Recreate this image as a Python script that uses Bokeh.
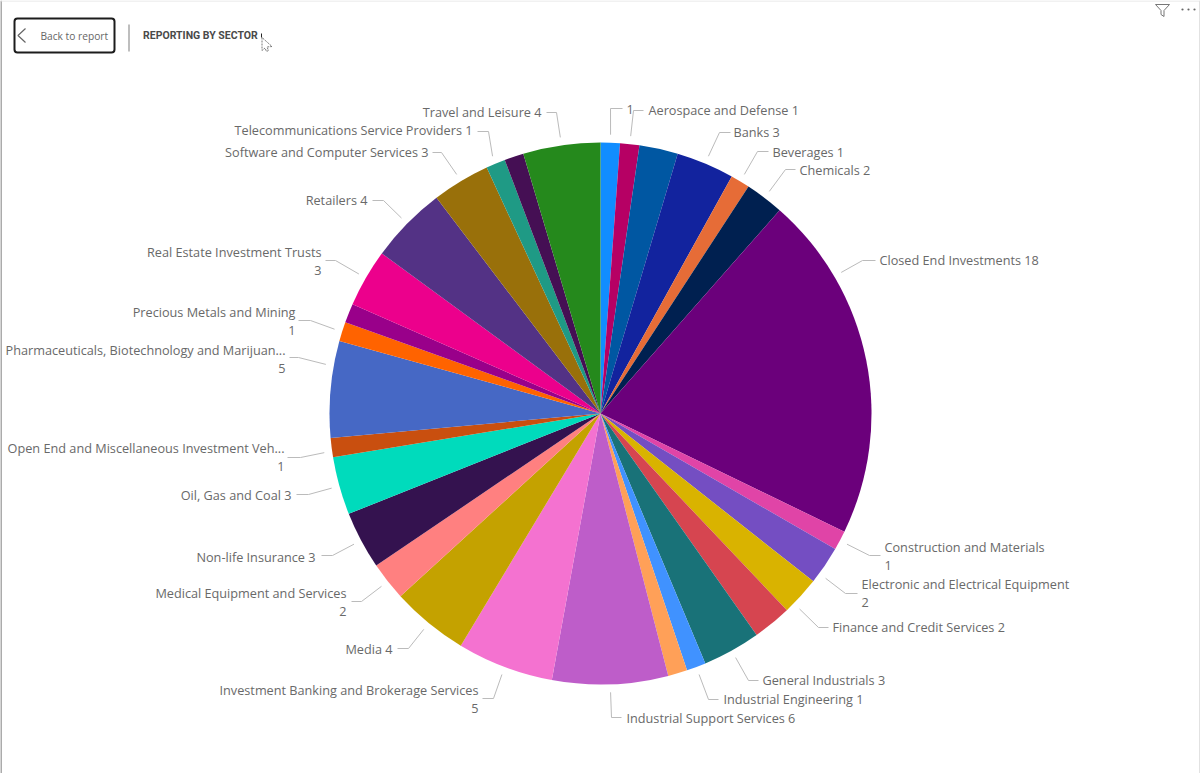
import math
from bokeh.plotting import figure
from bokeh.models import Range1d, ColumnDataSource
from bokeh.core.properties import value
from bokeh.embed import file_html
from bokeh.resources import INLINE

sectors = ["", "Aerospace and Defense", "", "Banks", "Beverages", "Chemicals",
           "Closed End Investments", "Construction and Materials",
           "Electronic and Electrical Equipment", "Finance and Credit Services", "",
           "General Industrials", "Industrial Engineering", "",
           "Industrial Support Services", "Investment Banking and Brokerage Services",
           "Media", "Medical Equipment and Services", "Non-life Insurance",
           "Oil, Gas and Coal", "Open End and Miscellaneous Investment Veh...",
           "Pharmaceuticals, Biotechnology and Marijuan...", "Precious Metals and Mining", "",
           "Real Estate Investment Trusts", "Retailers",
           "Software and Computer Services", "Telecommunications Service Providers", "",
           "Travel and Leisure"]
counts = [1, 1, 2, 3, 1, 2, 18, 1, 2, 2, 2, 3, 1, 1, 6, 5, 4, 2, 3, 3, 1, 5, 1, 1, 3, 4, 3, 1, 1, 4]
colors = ["#118DFF", "#B60064", "#0057A2", "#12239E", "#E66C37", "#002050", "#6B007B",
          "#E044A7", "#744EC2", "#D9B300", "#D64550", "#197278", "#4092FF", "#FFA058",
          "#BE5DC9", "#F472D0", "#C4A200", "#FF8080", "#34124F", "#00DBBC", "#C94F0F",
          "#4668C5", "#FF6300", "#99008A", "#EC008C", "#533285", "#99700A", "#1F9A85",
          "#450F54", "#25891C"]

# label layout: slice index -> text x, text y, elbow x, elbow y, leader end x, two-line?, text side
label_layout = {
    0: (626, 109, 610, 108, 622, False, "left"),
    1: (648, 109, 633, 110, 643, False, "left"),
    3: (733, 131, 719, 132, 730, False, "left"),
    4: (772, 151, 757, 151, 768, False, "left"),
    5: (799, 169, 785, 169, 795, False, "left"),
    6: (879, 259, 862, 260, 875, False, "left"),
    7: (884, 546, 869, 555, 880, True, "left"),
    8: (861, 583, 845, 593, 857, True, "left"),
    9: (832, 626, 818, 627, 828, False, "left"),
    11: (762, 679, 748, 680, 758, False, "left"),
    12: (723, 698, 708, 699, 718, False, "left"),
    14: (626, 717, 611, 717, 621, False, "left"),
    15: (478, 689, 493, 698, 482, True, "right"),
    16: (392, 648, 408, 648, 397, False, "right"),
    17: (346, 592, 361, 601, 351, True, "right"),
    18: (315, 556, 332, 555, 321, False, "right"),
    19: (291, 494, 308, 494, 296, False, "right"),
    20: (284, 447, 300, 457, 287, True, "right"),
    21: (285, 349, 298, 357, 289, True, "right"),
    22: (295, 311, 310, 320, 298, True, "right"),
    24: (321, 251, 335, 260, 325, True, "right"),
    25: (367, 199, 383, 200, 372, False, "right"),
    26: (428, 151, 441, 152, 432, False, "right"),
    27: (472, 129, 488, 131, 477, False, "right"),
    29: (541, 111, 556, 112, 546, False, "right"),
}
leader_fraction = {6: 0.245, 8: 0.75, 9: 0.75, 20: 0.3, 21: 0.74}

W, H = 1200, 773
CX, CY, R = 600, 413, 271
LEADER_R = 279


def Y(v):
    return H - v


p = figure(width=W, height=H, x_range=Range1d(0, W), y_range=Range1d(0, H),
           toolbar_location=None, output_backend="svg", min_border=0)
p.axis.visible = False
p.grid.visible = False
p.outline_line_color = None

# window frame
p.line([0.5, 0.5], [Y(0), Y(773)], line_color="#ababab", line_width=2)
p.line([1199.5, 1199.5], [Y(0), Y(773)], line_color="#c4c4c4", line_width=1)
p.line([0, 1200], [Y(0.5), Y(0.5)], line_color="#e4e4e4", line_width=1)

# pie
total = sum(counts)
starts, ends, acc = [], [], 0
for c in counts:
    starts.append(math.pi / 2 - 2 * math.pi * acc / total)
    acc += c
    ends.append(math.pi / 2 - 2 * math.pi * acc / total)
pie = ColumnDataSource(dict(start=starts, end=ends, color=colors, name=sectors, count=counts))
p.wedge(x=CX, y=Y(CY), radius=R, start_angle="start", end_angle="end", direction="clock",
        fill_color="color", line_color=None, source=pie)

# labels and leaders
lx, ly, la = [], [], []
rx, ry, ra = [], [], []
acc = 0
for i, c in enumerate(counts):
    layout = label_layout.get(i)
    frac = leader_fraction.get(i, 0.5)
    a = 2 * math.pi * (acc + c * frac) / total
    acc += c
    if not layout:
        continue
    tx, ty, ex, ey, endx, two, side = layout
    sx, sy = CX + LEADER_R * math.sin(a), CY - LEADER_R * math.cos(a)
    p.line([sx, ex, endx], [Y(sy), Y(ey), Y(ey)], line_color="#bbbbbb", line_width=1, line_join="round")
    name = sectors[i]
    lines = [name, str(c)] if two else [(name + " " + str(c)).strip()]
    for k, t in enumerate(lines):
        (lx if side == "left" else rx).append(tx)
        (ly if side == "left" else ry).append(Y(ty + k * 18.5))
        (la if side == "left" else ra).append(t)

p.text(x=lx, y=ly, text=la, text_font=value("Open Sans"), text_font_size=value("12.7px"),
       text_color="#696969", text_align="left", text_baseline="middle")
p.text(x=rx, y=ry, text=ra, text_font=value("Open Sans"), text_font_size=value("12.7px"),
       text_color="#696969", text_align="right", text_baseline="middle")

# header: back button, divider, title
p.quad(left=[14], right=[114], bottom=[Y(52)], top=[Y(18)], fill_color="#ffffff", line_color="#1c1c1c",
       line_width=2, border_radius=3)
p.line([25, 17.5, 25], [Y(28), Y(35), Y(42)], line_color="#666666", line_width=1.2)
p.text(x=[40], y=[Y(35)], text=["Back to report"], text_font=value("Open Sans"), text_font_size=value("10.2px"),
       text_color="#666666", text_baseline="middle")
p.line([128.5, 128.5], [Y(24), Y(51)], line_color="#a8a8a8", line_width=1.5)
p.text(x=[142.5], y=[Y(34.5)], text=["REPORTING BY SECTOR"], text_font=value("Roboto"), text_font_size=value("10.5px"),
       text_font_style="bold", text_color="#4a4a4a", text_baseline="middle")

# mouse cursor
p.patch([261.5, 261.5, 264.5, 266, 268, 266.5, 271.5], [Y(37), Y(50), Y(47.5), Y(51), Y(50), Y(46.5), Y(46)],
        fill_color="#ffffff", line_color="#555555", line_width=0.8, line_dash="2 1")
p.line([261, 261], [Y(33), Y(37)], line_color="#222222", line_width=1)

# top right icons
p.line([1155, 1169, 1163.5, 1163.5, 1160.5, 1160.5, 1155], [Y(4), Y(4), Y(10), Y(16), Y(14), Y(10), Y(4)],
       line_color="#777777", line_width=1)
p.scatter(x=[1182, 1188, 1194], y=[Y(9)] * 3, marker="circle", size=2.2, fill_color="#666666", line_color=None)

open("out.html", "w").write(file_html(p, INLINE))
